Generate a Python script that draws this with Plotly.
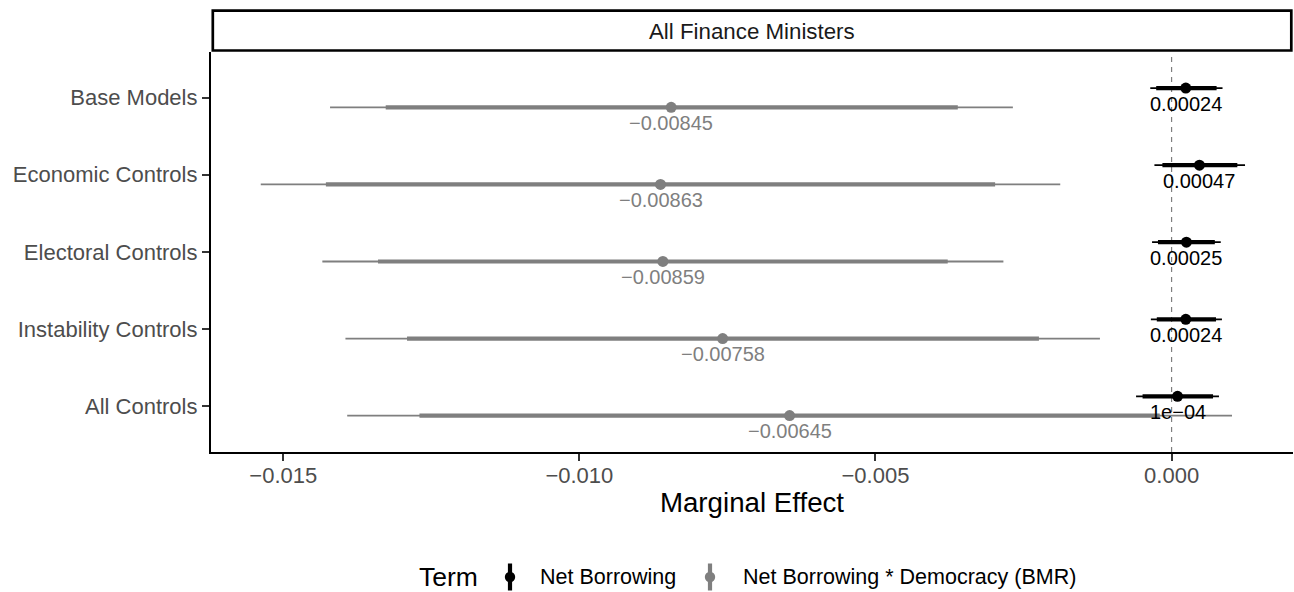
import plotly.graph_objects as go

# ---- data -------------------------------------------------------------
models = ["Base Models", "Economic Controls", "Electoral Controls",
          "Instability Controls", "All Controls"]
terms = ["Net Borrowing", "Net Borrowing * Democracy (BMR)"]

# Net Borrowing: estimate, 95% and 90% intervals
nb_est = [0.00024, 0.00047, 0.00025, 0.00024, 0.0001]
nb_lo95 = [-0.00036, -0.00029, -0.00033, -0.00035, -0.00060]
nb_lo90 = [-0.00026, -0.000155, -0.00023, -0.00025, -0.00049]
nb_hi90 = [0.00076, 0.00111, 0.00073, 0.00075, 0.00070]
nb_hi95 = [0.00086, 0.00124, 0.00083, 0.00085, 0.00080]

# Net Borrowing * Democracy (BMR)
int_est = [-0.00845, -0.00863, -0.00859, -0.00758, -0.00645]
int_lo95 = [-0.01421, -0.01538, -0.01434, -0.01395, -0.01392]
int_lo90 = [-0.01327, -0.01428, -0.01340, -0.01291, -0.01270]
int_hi90 = [-0.00361, -0.00298, -0.00378, -0.00224, -0.00020]
int_hi95 = [-0.00268, -0.00188, -0.00284, -0.00121, 0.00102]

x_ticks = [-0.015, -0.010, -0.005, 0.0]
x_tick_labels = ["\u22120.015", "\u22120.010", "\u22120.005", "0.000"]

panel_title = "All Finance Ministers"

# ---- helpers ----------------------------------------------------------
FONT = "Liberation Sans, Arial, Helvetica, sans-serif"
BLACK = "#000000"
GREY = "#7F7F7F"


def r_label(v):
    """Format a number the way R prints it (fixed vs scientific)."""
    fixed = f"{v:.10f}".rstrip("0").rstrip(".")
    mant, exp = f"{v:e}".split("e")
    mant = mant.rstrip("0").rstrip(".")
    sci = f"{mant}e{int(exp):+03d}"
    out = fixed if len(fixed) <= len(sci) else sci
    return out.replace("-", "\u2212")


def segments(lo, hi, ys):
    xs, yy = [], []
    for a, b, y in zip(lo, hi, ys):
        xs += [a, b, None]
        yy += [y, y, None]
    return xs, yy


# layout geometry (pixels)
W, H = 1294, 592
ML, MR, MT, MB = 211, 1, 52, 140
PW, PH = W - ML - MR, H - MT - MB


def px_x(px):
    return (px - ML) / PW


def px_y(py):
    return (H - MB - py) / PH


dodge = 0.125
series = [
    (terms[0], BLACK, nb_est, nb_lo95, nb_lo90, nb_hi90, nb_hi95, -dodge),
    (terms[1], GREY, int_est, int_lo95, int_lo90, int_hi90, int_hi95, dodge),
]

fig = go.Figure()
annotations = []

for name, color, est, lo95, lo90, hi90, hi95, off in series:
    ys = [i + off for i in range(len(models))]
    xs, yy = segments(lo95, hi95, ys)
    fig.add_trace(go.Scatter(x=xs, y=yy, mode="lines",
                             line=dict(color=color, width=1.8),
                             showlegend=False, hoverinfo="skip"))
    xs, yy = segments(lo90, hi90, ys)
    fig.add_trace(go.Scatter(x=xs, y=yy, mode="lines",
                             line=dict(color=color, width=4.2),
                             showlegend=False, hoverinfo="skip"))
    fig.add_trace(go.Scatter(x=est, y=ys, mode="markers",
                             marker=dict(color=color, size=11),
                             name=name, showlegend=False))
    for v, y in zip(est, ys):
        annotations.append(dict(
            x=v, y=y, xref="x", yref="y", text=r_label(v),
            showarrow=False, xanchor="center", yanchor="middle",
            yshift=-15.5, font=dict(family=FONT, size=20, color=color)))

# facet strip label
annotations.append(dict(
    x=0.5, y=px_y(31), xref="paper", yref="paper", text=panel_title,
    showarrow=False, xanchor="center", yanchor="middle",
    font=dict(family=FONT, size=22.3, color="#1A1A1A")))

# legend (drawn by hand so the keys are vertical point-ranges)
leg_y = 577
annotations.append(dict(
    x=px_x(480), y=px_y(leg_y), xref="paper", yref="paper", text="Term",
    showarrow=False, xanchor="right", yanchor="middle",
    font=dict(family=FONT, size=26.5, color=BLACK)))

shapes = [
    # zero reference line
    dict(type="line", xref="x", yref="paper", x0=0, x1=0, y0=0, y1=1,
         line=dict(color=GREY, width=1.2, dash="5px,5px"), layer="below"),
    # strip box
    dict(type="rect", xref="paper", yref="paper",
         x0=px_x(212.8), x1=px_x(1291.3), y0=px_y(50.5), y1=px_y(10.7),
         line=dict(color=BLACK, width=2.7), fillcolor="white"),
]

legend_keys = [(terms[0], BLACK, 510, 538), (terms[1], GREY, 710, 741)]
for label, color, kx, tx in legend_keys:
    shapes.append(dict(type="line", xref="paper", yref="paper",
                       x0=px_x(kx), x1=px_x(kx),
                       y0=px_y(leg_y - 13.5), y1=px_y(leg_y + 13.5),
                       line=dict(color=color, width=4.2)))
    shapes.append(dict(type="circle", xref="paper", yref="paper",
                       x0=px_x(kx - 5.2), x1=px_x(kx + 5.2),
                       y0=px_y(leg_y - 5.2), y1=px_y(leg_y + 5.2),
                       line=dict(color=color, width=0), fillcolor=color))
    annotations.append(dict(
        x=px_x(tx), y=px_y(leg_y), xref="paper", yref="paper", text=label,
        showarrow=False, xanchor="left", yanchor="middle",
        font=dict(family=FONT, size=21.5, color=BLACK)))

fig.update_layout(
    width=W, height=H,
    margin=dict(l=ML, r=MR, t=MT, b=MB, pad=0),
    paper_bgcolor="white", plot_bgcolor="white",
    font=dict(family=FONT),
    showlegend=False,
    shapes=shapes,
    annotations=annotations,
    xaxis=dict(
        range=[-0.01622, 0.00205],
        tickvals=x_ticks, ticktext=x_tick_labels,
        showgrid=False, zeroline=False,
        showline=True, linecolor=BLACK, linewidth=2.2,
        ticks="outside", ticklen=7, tickwidth=2, tickcolor="#333333",
        ticklabelstandoff=-5,
        tickfont=dict(family=FONT, size=22, color="#4D4D4D"),
        title=dict(text="Marginal Effect", standoff=4,
                   font=dict(family=FONT, size=27.7, color=BLACK)),
    ),
    yaxis=dict(
        range=[4.597, -0.593],
        tickvals=list(range(len(models))), ticktext=models,
        showgrid=False, zeroline=False,
        showline=True, linecolor=BLACK, linewidth=2.2,
        ticks="outside", ticklen=7, tickwidth=2, tickcolor="#333333",
        tickfont=dict(family=FONT, size=22, color="#4D4D4D"),
    ),
)

fig.write_html("out.html")
